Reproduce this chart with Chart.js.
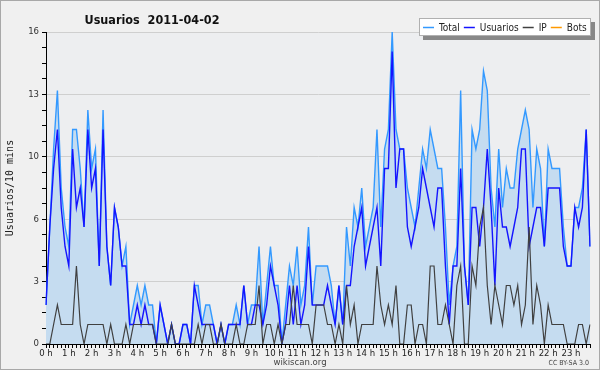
<!DOCTYPE html>
<html><head><meta charset="utf-8">
<script src="https://cdn.jsdelivr.net/npm/chart.js@4.4.1/dist/chart.umd.min.js"></script>
<style>html,body{margin:0;padding:0;background:#f0f0f0;}#wrap{width:600px;height:370px;}</style>
</head><body><div id="wrap"><canvas id="c" width="600" height="370"></canvas></div>
<script>
const titleText = "Usuarios  2011-04-02";
const hourLabels = ["0 h","1 h","2 h","3 h","4 h","5 h","6 h","7 h","8 h","9 h","10 h","11 h","12 h","13 h","14 h","15 h","16 h","17 h","18 h","19 h","20 h","21 h","22 h","23 h"];
const yTickLabels = ["0","3","6","10","13","16"];
const total = [
 2,6,10,13,8,6,5,11,11,9,6,12,9,10,4,12,5,3,7,6,4,5,1,2,
 3,2,3,2,2,0,2,1,0,1,0,0,1,1,0,3,3,1,2,2,1,0,1,0,
 1,1,2,1,3,1,2,2,
 5,1,3,5,3,3,0,2,4,3,5,2,3,6,2,4,4,4,4,3,1,3,1,6,4,7,6,8,
 5,6,7,11,6,10,11,16,11,10,10,8,7,6,8,10,9,11,10,9,9,6,2,4,5,13,4,2,
 11,10,11,14,13,8,6,10,7,9,8,8,10,11,12,11,7,10,9,5,10,9,9,9,6,4,4,7,7,8,11,5];
const usuarios = [
 2,6,9,11,7,5,4,10,7,8,6,11,8,9,4,11,5,3,7,6,4,4,1,1,
 2,1,2,1,1,0,2,1,0,1,0,0,1,1,0,3,2,1,1,1,1,0,1,0,
 1,1,1,1,3,1,1,2,
 2,1,2,4,3,2,0,1,3,1,3,1,2,5,2,2,2,2,3,2,1,3,1,3,3,5,6,7,
 4,5,6,7,4,9,9,15,8,10,10,6,5,6,7,9,8,7,6,8,8,4,1,4,4,9,4,2,
 7,7,5,7,10,7,3,8,6,6,5,6,7,10,10,5,6,7,7,5,8,8,8,8,5,4,4,7,6,7,11,5];
const ip = [
 0,0,1,2,1,1,1,1,4,1,0,1,1,1,1,1,0,1,0,0,0,1,0,1,
 1,1,1,1,1,0,0,0,0,1,0,0,0,0,0,0,1,0,1,1,0,0,1,0,
 0,0,1,0,0,1,1,1,
 3,0,1,1,0,1,0,1,1,3,1,1,1,1,0,2,2,2,1,1,0,1,0,3,1,2,0,1,
 1,1,1,4,2,1,2,1,3,0,0,2,2,0,1,1,0,4,4,1,1,2,1,0,3,4,0,0,
 4,3,6,7,3,1,3,2,1,3,3,2,3,1,2,6,1,3,2,0,2,1,1,1,1,0,0,0,1,1,0,1];
const bots = [];

const perHour = total.length / hourLabels.length;
const categories = total.map((v, i) => (i % perHour === 0) ? hourLabels[i / perHour] : "");

const COND = '"DejaVu Sans Condensed", "DejaVu Sans", sans-serif';

const decor = {
  id: 'decor',
  beforeDraw(chart) {
    const {ctx, chartArea: a} = chart;
    ctx.save();
    ctx.fillStyle = '#f0f0f0';
    ctx.fillRect(0, 0, chart.width, chart.height);
    ctx.fillStyle = '#edeef0';
    ctx.fillRect(a.left, a.top, a.right - a.left, a.bottom - a.top);
    ctx.restore();
  },
  afterDraw(chart) {
    const {ctx} = chart;
    ctx.save();
    ctx.strokeStyle = '#a8a8a8';
    ctx.lineWidth = 1;
    ctx.strokeRect(0.5, 0.5, chart.width - 1, chart.height - 1);
    // title
    ctx.fillStyle = '#111';
    ctx.font = 'bold 12.5px ' + COND;
    ctx.textAlign = 'center';
    ctx.textBaseline = 'alphabetic';
    ctx.fillText(titleText, 152, 24);
    // legend
    ctx.font = '10px ' + COND;
    const sets = chart.data.datasets;
    const widths = sets.map(ds => ctx.measureText(ds.label).width);
    let inner = 0;
    widths.forEach((w, i) => { inner += 16 + w + (i < widths.length - 1 ? 4 : 0); });
    const boxW = Math.round(inner + 8);
    const boxR = 591, boxT = 18, boxH = 18;
    const boxL = boxR - boxW;
    ctx.fillStyle = '#888';
    ctx.fillRect(boxL + 4, boxT + 4, boxW, boxH);
    ctx.fillStyle = '#ffffff';
    ctx.fillRect(boxL, boxT, boxW, boxH);
    ctx.strokeStyle = '#b0b0b0';
    ctx.strokeRect(boxL + 0.5, boxT + 0.5, boxW - 1, boxH - 1);
    ctx.textAlign = 'left';
    ctx.textBaseline = 'middle';
    let x = boxL + 4;
    sets.forEach((ds, i) => {
      ctx.strokeStyle = ds.borderColor;
      ctx.lineWidth = 1.5;
      ctx.beginPath();
      ctx.moveTo(x, 27.5);
      ctx.lineTo(x + 11, 27.5);
      ctx.stroke();
      ctx.fillStyle = '#222';
      ctx.fillText(ds.label, x + 16, 28);
      x = x + 16 + widths[i] + 4;
    });
    // footer
    ctx.fillStyle = '#444';
    ctx.font = '9.5px ' + COND;
    ctx.textAlign = 'center';
    ctx.textBaseline = 'alphabetic';
    ctx.fillText('wikiscan.org', 300, 365);
    ctx.font = '7px ' + COND;
    ctx.textAlign = 'right';
    ctx.fillText('CC BY-SA 3.0', 589, 365);
    ctx.restore();
  }
};

new Chart(document.getElementById('c'), {
  type: 'line',
  data: {
    labels: categories,
    datasets: [
      {label: 'Total', data: total, borderColor: '#3399ff', backgroundColor: '#c5dcf0', fill: 'origin', borderWidth: 1.4, pointRadius: 0, order: 4},
      {label: 'Usuarios', data: usuarios, borderColor: '#1414ff', borderWidth: 1.4, pointRadius: 0, fill: false, order: 3},
      {label: 'IP', data: ip, borderColor: '#404040', borderWidth: 1.2, pointRadius: 0, fill: false, order: 2},
      {label: 'Bots', data: bots, borderColor: '#ff9900', borderWidth: 1.2, pointRadius: 0, fill: false, order: 1}
    ]
  },
  options: {
    responsive: false,
    animation: false,
    devicePixelRatio: 1,
    layout: {padding: {top: 32, right: 10, left: 0, bottom: 0}},
    plugins: {
      legend: {display: false},
      tooltip: {enabled: false},
      filler: {drawTime: 'beforeDatasetsDraw'}
    },
    scales: {
      x: {
        type: 'category',
        offset: false,
        afterFit(s) { s.height = 26; },
        border: {display: true, color: '#000', width: 1},
        grid: {drawOnChartArea: false, drawTicks: true, tickLength: 4, tickColor: '#000'},
        ticks: {autoSkip: false, maxRotation: 0, minRotation: 0, padding: 0, color: '#222',
                font: {family: COND, size: 9.5}}
      },
      y: {
        min: 0, max: 16,
        afterFit(s) { s.width = 46; },
        border: {display: true, color: '#000', width: 1},
        grid: {
          drawTicks: true, tickLength: 4, tickColor: '#000',
          color: c => (c.index % 4 === 0 && c.index > 0) ? '#cfcfcf' : 'rgba(0,0,0,0)'
        },
        ticks: {stepSize: 0.8, autoSkip: false, padding: 3, color: '#333',
                font: {family: COND, size: 9.5},
                callback: (v, i) => (i % 4 === 0) ? yTickLabels[i / 4] : ''},
        title: {display: true, text: 'Usuarios/10 mins', color: '#222', padding: {top: 4, bottom: 0},
                font: {family: '"DejaVu Sans Mono", monospace', size: 10}}
      }
    }
  },
  plugins: [decor]
});
</script></body></html>
